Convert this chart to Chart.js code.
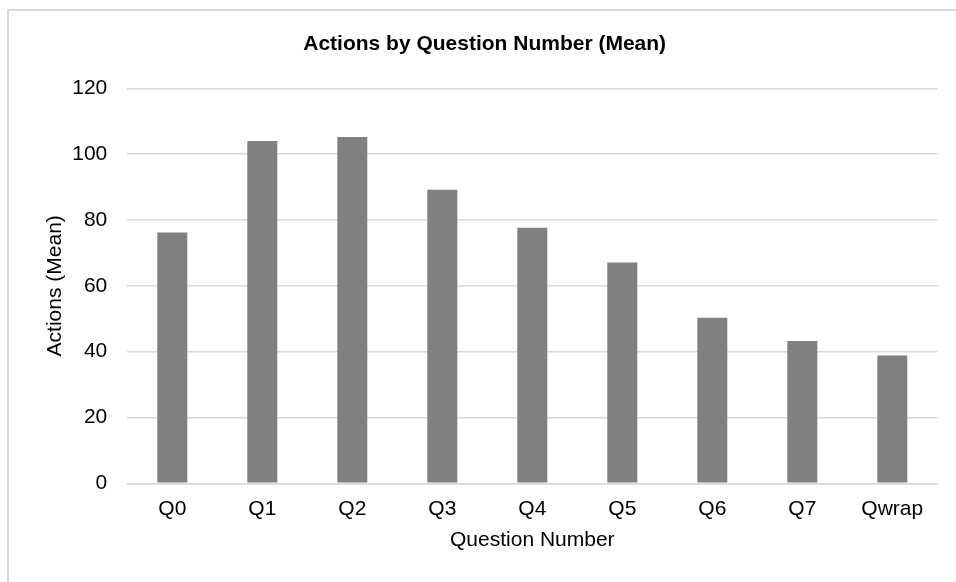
<!DOCTYPE html>
<html>
<head>
<meta charset="utf-8">
<script src="https://cdn.jsdelivr.net/npm/chart.js@4/dist/chart.umd.min.js"></script>
<style>
    html, body { margin: 0; padding: 0; background: #fff; }
    #frame {
        position: absolute;
        left: 7px;
        top: 9px;
        width: 1000px;
        height: 700px;
        border: 2px solid #d9d9d9;
        box-sizing: border-box;
    }
    #chartBox { position: absolute; left: 0; top: 0; width: 956px; height: 582px; }
</style>
</head>
<body>
<div id="frame"></div>
<div id="chartBox"><canvas id="actionsChart" width="956" height="582"></canvas></div>
<script>
const questions = ['Q0', 'Q1', 'Q2', 'Q3', 'Q4', 'Q5', 'Q6', 'Q7', 'Qwrap'];
const meanActions = [76.2, 104.0, 105.2, 89.2, 77.6, 67.1, 50.3, 43.2, 38.8];
const yTicks = [0, 20, 40, 60, 80, 100, 120];

document.addEventListener('DOMContentLoaded', function() {
    const fontFamily = '"Liberation Sans", Arial, sans-serif';
    const ctx = document.getElementById('actionsChart').getContext('2d');

    const chartConfig = {
        type: 'bar',
        data: {
            labels: questions,
            datasets: [{
                label: 'Actions (Mean)',
                data: meanActions,
                backgroundColor: '#808080',
                borderWidth: 0,
                categoryPercentage: 1,
                barPercentage: 1 / 3
            }]
        },
        options: {
            responsive: false,
            animation: false,
            devicePixelRatio: 1,
            layout: {
                // title is centred on the whole frame, not the plot area
                padding: { left: 16, right: 2.7, top: 0, bottom: 0 }
            },
            plugins: {
                legend: { display: false },
                tooltip: { enabled: false },
                title: {
                    display: true,
                    text: 'Actions by Question Number (Mean)',
                    color: '#000',
                    font: { family: fontFamily, size: 21, weight: 'bold' },
                    padding: { top: 31.7, bottom: 31.4 }
                }
            },
            scales: {
                x: {
                    grid: { display: false, drawTicks: false },
                    border: { display: true, color: '#d9d9d9', width: 1.5 },
                    ticks: {
                        color: '#000',
                        padding: 13.4,
                        font: { family: fontFamily, size: 21 }
                    },
                    title: {
                        display: true,
                        text: 'Question Number',
                        color: '#000',
                        font: { family: fontFamily, size: 21 },
                        padding: { top: 0, bottom: 28.8 }
                    },
                    afterFit: function(scale) { scale.height = 98.7; }
                },
                y: {
                    min: yTicks[0],
                    max: yTicks[yTicks.length - 1],
                    grid: {
                        color: '#d9d9d9',
                        lineWidth: 1.5,
                        drawTicks: false
                    },
                    border: { display: false },
                    ticks: {
                        stepSize: 20,
                        color: '#000',
                        padding: 20,
                        font: { family: fontFamily, size: 21 }
                    },
                    title: {
                        display: true,
                        text: 'Actions (Mean)',
                        color: '#000',
                        font: { family: fontFamily, size: 21 },
                        padding: { top: 26.4, bottom: 0 }
                    },
                    afterFit: function(scale) { scale.width = 111.3; }
                },
                // empty spacer on the right so the plot ends where the reference does
                spacer: {
                    type: 'linear',
                    position: 'right',
                    grid: { display: false, drawTicks: false },
                    border: { display: false },
                    ticks: { display: false },
                    afterFit: function(scale) { scale.width = 16; }
                }
            }
        }
    };

    new Chart(ctx, chartConfig);
});
</script>
</body>
</html>
